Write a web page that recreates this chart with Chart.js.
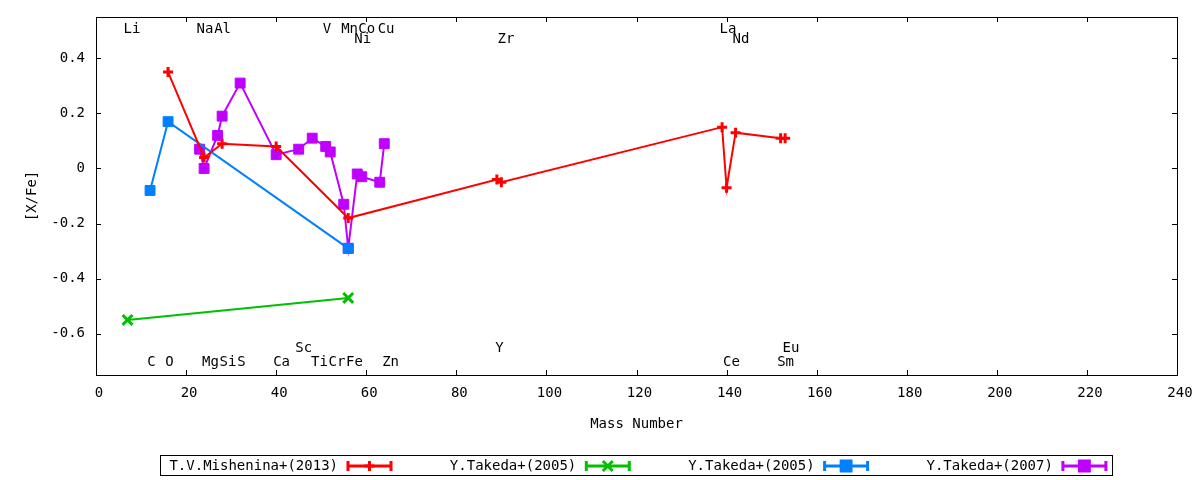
<!DOCTYPE html>
<html>
<head>
<meta charset="utf-8">
<title>[X/Fe] vs Mass Number</title>
<script src="https://cdn.jsdelivr.net/npm/chart.js@4.4.1/dist/chart.umd.min.js"></script>
<style>
  html, body { margin: 0; padding: 0; background: #fff; }
  #wrap { width: 1200px; height: 480px; }
</style>
</head>
<body>
<div id="wrap"><canvas id="abundChart" width="1200" height="480"></canvas></div>
<script>
// series labels
const seriesNames = ['T.V.Mishenina+(2013)', 'Y.Takeda+(2005)', 'Y.Takeda+(2005)', 'Y.Takeda+(2007)'];

// T.V.Mishenina+(2013)
const misheninaMass = [16, 24, 28, 40, 56, 89, 90, 139, 140, 142, 152, 153];
const misheninaXFe  = [0.35, 0.04, 0.09, 0.08, -0.18, -0.04, -0.05, 0.15, -0.07, 0.13, 0.11, 0.11];

// Y.Takeda+(2005) green
const takedaAMass = [7, 56];
const takedaAXFe  = [-0.55, -0.47];

// Y.Takeda+(2005) blue
const takedaBMass = [12, 16, 56];
const takedaBXFe  = [-0.08, 0.17, -0.29];

// Y.Takeda+(2007)
const takeda07Mass = [23, 24, 27, 28, 32, 40, 45, 48, 51, 52, 55, 56, 58, 59, 63, 64];
const takeda07XFe  = [0.07, 0.00, 0.12, 0.19, 0.31, 0.05, 0.07, 0.11, 0.08, 0.06, -0.13, -0.29, -0.02, -0.03, -0.05, 0.09];

// element names written in the plot (x = mass, y = [X/Fe] row)
const elemNames = ['Li', 'Na', 'Al', 'V', 'Mn', 'Co', 'Cu', 'La',
                   'Ni', 'Zr', 'Nd',
                   'Sc', 'Y', 'Eu',
                   'C', 'O', 'Mg', 'Si', 'S', 'Ca', 'Ti', 'Cr', 'Fe', 'Zn', 'Ce', 'Sm'];
const elemX = [8.0, 24.2, 28.1, 51.3, 56.3, 60.1, 64.4, 140.3,
               59.2, 91.0, 143.2,
               46.1, 89.6, 154.3,
               12.3, 16.3, 25.4, 29.3, 32.3, 41.2, 49.6, 53.5, 57.4, 65.4, 141.1, 153.1];
const elemY = [0.506, 0.506, 0.506, 0.506, 0.506, 0.506, 0.506, 0.506,
               0.468, 0.468, 0.468,
               -0.652, -0.652, -0.652,
               -0.705, -0.705, -0.705, -0.705, -0.705, -0.705, -0.705, -0.705, -0.705, -0.705, -0.705, -0.705];

// axis ticks
const yTickVals = [-0.6, -0.4, -0.2, 0, 0.2, 0.4];
const xMin = 0, xMax = 240, xStep = 20;
const yMin = -0.75, yMax = 0.55;

const FONT = '"DejaVu Sans Mono", "Liberation Mono", monospace';

function toPoints(xs, ys) {
    return xs.map((v, i) => ({x: v, y: ys[i]}));
}

// gnuplot style frame with inward (mirrored) ticks
const frameTicks = {
    id: 'frameTicks',
    beforeDatasetsDraw(chart) {
        const {ctx, chartArea: a, scales: {x, y}} = chart;
        ctx.save();
        ctx.strokeStyle = '#000';
        ctx.lineWidth = 1;
        ctx.strokeRect(a.left + 0.5, a.top + 0.5, a.right - a.left, a.bottom - a.top);
        ctx.beginPath();
        x.ticks.forEach(t => {
            const px = Math.round(x.getPixelForValue(t.value)) + 0.5;
            ctx.moveTo(px, a.bottom); ctx.lineTo(px, a.bottom - 5);
            ctx.moveTo(px, a.top); ctx.lineTo(px, a.top + 5);
        });
        y.ticks.forEach(t => {
            const py = Math.round(y.getPixelForValue(t.value)) + 0.5;
            ctx.moveTo(a.left, py); ctx.lineTo(a.left + 5, py);
            ctx.moveTo(a.right, py); ctx.lineTo(a.right - 5, py);
        });
        ctx.stroke();
        ctx.restore();
    }
};

// element names
const elemLabels = {
    id: 'elemLabels',
    afterDatasetsDraw(chart) {
        const {ctx, scales: {x, y}} = chart;
        ctx.save();
        ctx.font = '14px ' + FONT;
        ctx.fillStyle = '#000';
        ctx.textAlign = 'center';
        ctx.textBaseline = 'middle';
        elemNames.forEach((n, i) => {
            ctx.fillText(n, x.getPixelForValue(elemX[i]), y.getPixelForValue(elemY[i]));
        });
        ctx.restore();
    }
};

// key box under the plot: text then sample line
const keyBox = {
    id: 'keyBox',
    afterDraw(chart) {
        const ctx = chart.ctx;
        const ym = 466;
        ctx.save();
        ctx.strokeStyle = '#000';
        ctx.lineWidth = 1;
        ctx.strokeRect(160.5, 455.5, 952, 20);
        ctx.font = '14px ' + FONT;
        ctx.textAlign = 'right';
        ctx.textBaseline = 'middle';
        chart.data.datasets.forEach((ds, i) => {
            const tx = 338 + i * 238.3;
            ctx.fillStyle = '#000';
            ctx.fillText(ds.label, tx, ym);
            const x0 = tx + 10, x1 = tx + 53;
            ctx.strokeStyle = ds.borderColor;
            ctx.fillStyle = ds.borderColor;
            ctx.lineWidth = 3;
            ctx.beginPath();
            ctx.moveTo(x0, ym); ctx.lineTo(x1, ym);
            ctx.moveTo(x0, ym - 5); ctx.lineTo(x0, ym + 5);
            ctx.moveTo(x1, ym - 5); ctx.lineTo(x1, ym + 5);
            ctx.stroke();
            Chart.helpers.drawPoint(ctx, {
                pointStyle: ds.pointStyle,
                radius: ds.pointRadius,
                borderWidth: ds.pointBorderWidth,
                rotation: 0
            }, (x0 + x1) / 2, ym);
        });
        ctx.restore();
    }
};

Chart.defaults.font.family = FONT;
Chart.defaults.font.size = 14;
Chart.defaults.color = '#000';

const context = document.getElementById('abundChart').getContext('2d');

const abundChart = new Chart(context, {
    type: 'scatter',
    data: {
        datasets: [
            {
                label: seriesNames[0],
                data: toPoints(misheninaMass, misheninaXFe),
                showLine: true,
                borderColor: '#ff0000',
                backgroundColor: '#ff0000',
                borderWidth: 2,
                pointStyle: 'cross',
                pointRadius: 5,
                pointBorderWidth: 3
            },
            {
                label: seriesNames[1],
                data: toPoints(takedaAMass, takedaAXFe),
                showLine: true,
                borderColor: '#00c000',
                backgroundColor: '#00c000',
                borderWidth: 2,
                pointStyle: 'crossRot',
                pointRadius: 7,
                pointBorderWidth: 3
            },
            {
                label: seriesNames[2],
                data: toPoints(takedaBMass, takedaBXFe),
                showLine: true,
                borderColor: '#0080ff',
                backgroundColor: '#0080ff',
                borderWidth: 2,
                pointStyle: 'rect',
                pointRadius: 7,
                pointBorderWidth: 1
            },
            {
                label: seriesNames[3],
                data: toPoints(takeda07Mass, takeda07XFe),
                showLine: true,
                borderColor: '#c000ff',
                backgroundColor: '#c000ff',
                borderWidth: 2,
                pointStyle: 'rect',
                pointRadius: 7,
                pointBorderWidth: 1
            }
        ]
    },
    options: {
        responsive: false,
        animation: false,
        devicePixelRatio: 1,
        layout: { padding: { top: 17, right: 23, bottom: 0, left: 0 } },
        plugins: {
            legend: { display: false },
            tooltip: { enabled: false }
        },
        scales: {
            x: {
                type: 'linear',
                min: xMin,
                max: xMax,
                // tick marks are drawn by frameTicks; tickLength only spaces the labels
                grid: { display: false, drawTicks: true, tickLength: 10 },
                border: { display: false },
                ticks: { stepSize: xStep, padding: 0, labelOffset: 3, autoSkip: false, maxRotation: 0 },
                title: { display: true, text: 'Mass Number', padding: { top: 0, bottom: 47 } },
                afterFit(scale) { scale.height = 105; }
            },
            y: {
                type: 'linear',
                min: yMin,
                max: yMax,
                grid: { display: false, drawTicks: true, tickLength: 11 },
                border: { display: false },
                ticks: { padding: 0, callback: v => String(v) },
                afterBuildTicks(scale) { scale.ticks = yTickVals.map(v => ({value: v})); },
                title: { display: true, text: '[X/Fe]', padding: { top: 24, bottom: 0 } },
                afterFit(scale) { scale.width = 96; }
            }
        }
    },
    plugins: [frameTicks, elemLabels, keyBox]
});
</script>
</body>
</html>
